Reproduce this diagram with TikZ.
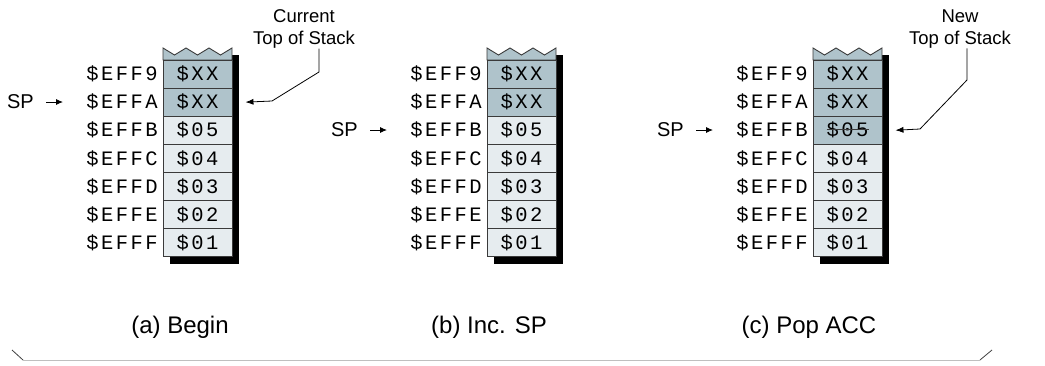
\documentclass[tikz,border=0pt]{standalone}
\usepackage{fontspec}
\setmainfont{Liberation Sans}
\newfontfamily\monof{Liberation Mono}[LetterSpace=12]
\usetikzlibrary{arrows.meta,calc}
\definecolor{cdark}{HTML}{AFC3CB}
\definecolor{clight}{HTML}{E6ECEF}
\definecolor{cline}{HTML}{3A3A3A}
\begin{document}
\begin{tikzpicture}[x=1pt,y=-1pt,
  cell/.style={draw=cline, line width=0.9pt, minimum width=69pt, minimum height=28.1pt, inner sep=0pt, font=\monof\fontsize{20.5}{21}\selectfont},
  addr/.style={anchor=east, inner sep=0pt, font=\monof\fontsize{20.5}{21}\selectfont},
  splab/.style={anchor=east, inner sep=0pt, font=\fontsize{20}{20}\selectfont},
  toplab/.style={align=center, inner sep=0pt, font=\fontsize{18.5}{22}\selectfont},
  caption/.style={inner sep=0pt, font=\fontsize{24}{25}\selectfont},
  sparrow/.style={-{Latex[length=7pt,width=6pt]}, line width=0.9pt},
  tosarrow/.style={-{Latex[length=8pt,width=6pt]}, line width=0.8pt},
]
\useasboundingbox (0,0) rectangle (1045,365);
\foreach \k/\L in {1/163,2/487,3/813} {
  % shadow
  \fill[black] (\L+7,55) rectangle (\L+76,264);
  % wavy top
  \filldraw[fill=cdark, draw=cline, line width=0.9pt]
    (\L,60) -- (\L,48) -- (\L+11.5,55) -- (\L+23,48) -- (\L+34.5,55) -- (\L+46,48) -- (\L+57.5,55) -- (\L+69,48) -- (\L+69,60) -- cycle;
  \foreach \i/\a/\v in {0/EFF9/XX,1/EFFA/XX,2/EFFB/05,3/EFFC/04,4/EFFD/03,5/EFFE/02,6/EFFF/01} {
    \pgfmathtruncatemacro\dk{(\i<2)||((\k==3)&&(\i==2))}
    \ifnum\dk=1 \def\cc{cdark}\else\def\cc{clight}\fi
    \node[cell, fill=\cc] (c\k r\i) at (\L+34.5,{74.05+28.1*\i}) {\$\v};
    \node[addr] (a\k r\i) at (\L-5,{74.05+28.1*\i}) {\$\a};
  }
}
% SP pointers
\node[splab] (sp1) at (34,102) {SP};
\node[splab] (sp2) at (358,130) {SP};
\node[splab] (sp3) at (684,130) {SP};
\draw[sparrow] ([xshift=12pt]sp1.east) -- ([xshift=29pt]sp1.east);
\draw[sparrow] ([xshift=12pt]sp2.east) -- ([xshift=29pt]sp2.east);
\draw[sparrow] ([xshift=12pt]sp3.east) -- ([xshift=29pt]sp3.east);
% strike-through of popped value
\draw[line width=0.9pt, cline] ($(c3r2.center)+(-21,-1)$) -- ($(c3r2.center)+(21,-1)$);
% top-of-stack labels
\node[toplab] (cur) at (304,29) {Current\\Top of Stack};
\node[toplab] (new) at (960,29) {New\\Top of Stack};
\coordinate (k1) at (319,72);
\coordinate (d1) at (272,101);
\coordinate (k3) at (967,80);
\coordinate (d3) at (920,129);
\draw[tosarrow] (cur.south -| k1) -- (k1) -- (d1) -- ([xshift=13pt]c1r1.east);
\draw[tosarrow] (new.south -| k3) -- (k3) -- (d3) -- ([xshift=13pt]c3r2.east);
% captions
\node[caption] (capa) at (180,327) {(a) Begin};
\node[caption] (capb) at (489,327) {(b) Inc. SP};
\node[caption] (capc) at (809,327) {(c) Pop ACC};
% bottom brace
\coordinate (bl0) at (12,350);
\coordinate (bl1) at (23,360);
\coordinate (br1) at (980,360);
\coordinate (br0) at (992,350);
\draw[black!75, line width=0.8pt] (bl0) -- (bl1);
\draw[black!75, line width=0.8pt] (br0) -- (br1);
\draw[black!25, line width=1pt] (bl1) -- (br1);
\end{tikzpicture}
\end{document}
